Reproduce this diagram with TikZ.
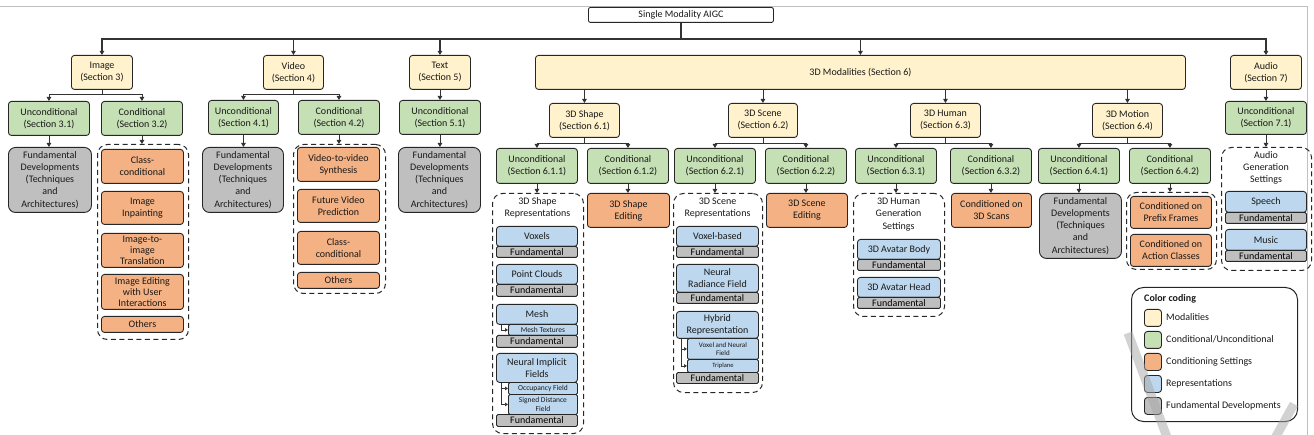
\documentclass[tikz,border=0pt]{standalone}
\usepackage{fontspec}
\setmainfont{Carlito}
\usetikzlibrary{arrows.meta}

\definecolor{modcol}{RGB}{255,242,204}
\definecolor{condcol}{RGB}{197,224,180}
\definecolor{setcol}{RGB}{244,177,131}
\definecolor{repcol}{RGB}{189,215,238}
\definecolor{fundcol}{RGB}{191,191,191}

\tikzset{
  box/.style={draw=black!85, line width=0.9pt, rounded corners=3pt, anchor=north west, align=center, inner sep=1pt, text=black!90, font=\fontsize{10}{12}\selectfont},
  rootbox/.style={box, fill=white, rounded corners=2pt},
  modbox/.style={box, fill=modcol},
  condbox/.style={box, fill=condcol},
  setbox/.style={box, fill=setcol},
  repbox/.style={box, fill=repcol},
  fundbox/.style={box, fill=fundcol, rounded corners=7pt, font=\fontsize{10}{12.2}\selectfont},
  fundstrip/.style={box, fill=fundcol, rounded corners=1.5pt, inner sep=0pt, text=black},
  subbox/.style={repbox, rounded corners=1.5pt, inner sep=0pt, font=\fontsize{7.5}{8.5}\selectfont},
  grp/.style={draw=black!85, line width=1pt, dash pattern=on 5pt off 3.5pt, rounded corners=10pt, anchor=north west, inner sep=0pt},
  grptitle/.style={align=center, text=black!90, font=\fontsize{10}{12.2}\selectfont, inner sep=0pt},
  arr/.style={draw=black!80, line width=0.8pt, -{Triangle[length=4pt,width=4.5pt]}},
  busarr/.style={arr, line width=1.1pt},
  smallarr/.style={draw=black!80, line width=0.7pt, -{Triangle[length=3pt,width=3.5pt]}},
  swatch/.style={box, minimum width=17pt, minimum height=17pt},
  legtext/.style={anchor=west, text=black!90, font=\fontsize{10}{12}\selectfont, inner sep=0pt},
}

\begin{document}
\begin{tikzpicture}[x=1pt,y=-1pt]
\useasboundingbox (0,0) rectangle (1314,435);
% page edge
\draw[black!25, line width=0.8pt] (0,6) -- (1307,6) -- (1307,435);

% root and modalities
\node[rootbox, minimum width=185pt, minimum height=15pt] (root) at (588,7) {Single Modality AIGC};
\node[modbox, minimum width=61pt, minimum height=34pt] (img) at (71,55) {Image\\(Section 3)};
\node[modbox, minimum width=60pt, minimum height=34pt] (vid) at (263,55) {Video\\(Section 4)};
\node[modbox, minimum width=61pt, minimum height=34pt] (txt) at (409,55) {Text\\(Section 5)};
\node[modbox, minimum width=650pt, minimum height=34pt] (mod3d) at (535,55) {3D Modalities (Section 6)};
\node[modbox, minimum width=71pt, minimum height=34pt] (aud) at (1230,55) {Audio\\(Section 7)};

% conditional / unconditional
\node[condbox, minimum width=81pt, minimum height=34pt] (img31) at (8,101) {Unconditional\\(Section 3.1)};
\node[condbox, minimum width=81pt, minimum height=34pt] (img32) at (101,101) {Conditional\\(Section 3.2)};
\node[condbox, minimum width=70pt, minimum height=34pt] (vid41) at (208,100) {Unconditional\\(Section 4.1)};
\node[condbox, minimum width=81pt, minimum height=34pt] (vid42) at (298,100) {Conditional\\(Section 4.2)};
\node[condbox, minimum width=81pt, minimum height=34pt] (txt51) at (399,100) {Unconditional\\(Section 5.1)};
\node[condbox, minimum width=81pt, minimum height=33pt] (aud71) at (1225,101) {Unconditional\\(Section 7.1)};

% 3D modalities
\node[modbox, minimum width=70pt, minimum height=34pt] (shp) at (549,103) {3D Shape\\(Section 6.1)};
\node[modbox, minimum width=69pt, minimum height=34pt] (scn) at (728,103) {3D Scene\\(Section 6.2)};
\node[modbox, minimum width=70pt, minimum height=34pt] (hum) at (910,103) {3D Human\\(Section 6.3)};
\node[modbox, minimum width=70pt, minimum height=34pt] (mot) at (1092,103) {3D Motion\\(Section 6.4)};

\node[condbox, minimum width=81pt, minimum height=35pt] (shp1) at (496,148) {Unconditional\\(Section 6.1.1)};
\node[condbox, minimum width=81pt, minimum height=35pt] (shp2) at (587,148) {Conditional\\(Section 6.1.2)};
\node[condbox, minimum width=81pt, minimum height=35pt] (scn1) at (674,148) {Unconditional\\(Section 6.2.1)};
\node[condbox, minimum width=81pt, minimum height=35pt] (scn2) at (765,148) {Conditional\\(Section 6.2.2)};
\node[condbox, minimum width=81pt, minimum height=35pt] (hum1) at (855,148) {Unconditional\\(Section 6.3.1)};
\node[condbox, minimum width=81pt, minimum height=35pt] (hum2) at (950,148) {Conditional\\(Section 6.3.2)};
\node[condbox, minimum width=81pt, minimum height=35pt] (mot1) at (1038,148) {Unconditional\\(Section 6.4.1)};
\node[condbox, minimum width=81pt, minimum height=35pt] (mot2) at (1129,148) {Conditional\\(Section 6.4.2)};

% fundamental developments
\node[fundbox, minimum width=83pt, minimum height=65pt] (img31f) at (8,147) {Fundamental\\Developments\\(Techniques\\and\\Architectures)};
\node[fundbox, minimum width=81pt, minimum height=65pt] (vid41f) at (202,147) {Fundamental\\Developments\\(Techniques\\and\\Architectures)};
\node[fundbox, minimum width=82pt, minimum height=65pt] (txt51f) at (398,147) {Fundamental\\Developments\\(Techniques\\and\\Architectures)};
\node[fundbox, minimum width=82pt, minimum height=65pt] (mot1f) at (1039,193) {Fundamental\\Developments\\(Techniques\\and\\Architectures)};

% dashed groups
\node[grp, minimum width=91pt, minimum height=195pt] (img32g) at (97,144) {};
\node[grp, minimum width=92pt, minimum height=149pt] (vid42g) at (293,144) {};
\node[grp, minimum width=91pt, minimum height=240pt] (shp1g) at (492,193) {};
\node[grp, minimum width=89pt, minimum height=199pt] (scn1g) at (673,193) {};
\node[grp, minimum width=91pt, minimum height=123pt] (hum1g) at (853,193) {};
\node[grp, minimum width=90pt, minimum height=77pt] (mot2g) at (1126,192) {};
\node[grp, minimum width=90pt, minimum height=123pt] (aud71g) at (1221,147) {};

% conditioning settings
\node[setbox, minimum width=82pt, minimum height=34pt] (icls) at (101,149) {Class-\\conditional};
\node[setbox, minimum width=82pt, minimum height=33pt] (iinp) at (101,191) {Image\\Inpainting};
\node[setbox, minimum width=82pt, minimum height=34pt, inner sep=0pt, font=\fontsize{10}{11}\selectfont] (ii2i) at (101,233) {Image-to-\\image\\Translation};
\node[setbox, minimum width=82pt, minimum height=35pt, inner sep=0pt, font=\fontsize{10}{11}\selectfont] (iedit) at (101,274) {Image Editing\\with User\\Interactions};
\node[setbox, minimum width=82pt, minimum height=16pt, inner sep=0pt] (ioth) at (101,316) {Others};
\node[setbox, minimum width=82pt, minimum height=34pt] (vv2v) at (297,147) {Video-to-video\\Synthesis};
\node[setbox, minimum width=82pt, minimum height=33pt] (vfut) at (297,189) {Future Video\\Prediction};
\node[setbox, minimum width=82pt, minimum height=33pt] (vcls) at (297,231) {Class-\\conditional};
\node[setbox, minimum width=82pt, minimum height=16pt, inner sep=0pt] (voth) at (297,272) {Others};
\node[setbox, minimum width=82pt, minimum height=34pt] (shp2e) at (587,193) {3D Shape\\Editing};
\node[setbox, minimum width=81pt, minimum height=34pt] (scn2e) at (766,193) {3D Scene\\Editing};
\node[setbox, minimum width=80pt, minimum height=34pt] (hum2e) at (951,193) {Conditioned on\\3D Scans};
\node[setbox, minimum width=81pt, minimum height=32pt] (motpf) at (1130,196) {Conditioned on\\Prefix Frames};
\node[setbox, minimum width=81pt, minimum height=32pt] (motac) at (1130,234) {Conditioned on\\Action Classes};

% 3D shape representations
\node[grptitle] (shp1gt) at (537.5,208) {3D Shape\\Representations};
\node[repbox, minimum width=81pt, minimum height=20pt] (vox) at (496,226) {Voxels};
\node[fundstrip, minimum width=81pt, minimum height=11pt] (voxf) at (496,246) {Fundamental};
\node[repbox, minimum width=81pt, minimum height=20pt] (pcl) at (496,264) {Point Clouds};
\node[fundstrip, minimum width=81pt, minimum height=12pt] (pclf) at (496,284) {Fundamental};
\node[repbox, minimum width=81pt, minimum height=20pt] (msh) at (496,304) {Mesh};
\node[subbox, minimum width=69pt, minimum height=11pt] (mshtx) at (508,324) {Mesh Textures};
\node[fundstrip, minimum width=81pt, minimum height=12pt] (mshf) at (496,335) {Fundamental};
\node[repbox, minimum width=81pt, minimum height=29pt] (nif) at (496,353) {Neural Implicit\\Fields};
\node[subbox, minimum width=69pt, minimum height=12pt] (nifocc) at (508,382) {Occupancy Field};
\node[subbox, minimum width=69pt, minimum height=20pt] (nifsdf) at (508,394) {Signed Distance\\Field};
\node[fundstrip, minimum width=81pt, minimum height=12pt] (niff) at (496,414) {Fundamental};

% 3D scene representations
\node[grptitle] (scn1gt) at (717.5,208) {3D Scene\\Representations};
\node[repbox, minimum width=82pt, minimum height=20pt] (vxb) at (676,226) {Voxel-based};
\node[fundstrip, minimum width=82pt, minimum height=11pt] (vxbf) at (676,246) {Fundamental};
\node[repbox, minimum width=82pt, minimum height=28pt] (nrf) at (676,264) {Neural\\Radiance Field};
\node[fundstrip, minimum width=82pt, minimum height=11pt] (nrff) at (676,292) {Fundamental};
\node[repbox, minimum width=82pt, minimum height=27pt] (hyb) at (676,311) {Hybrid\\Representation};
\node[subbox, minimum width=71pt, minimum height=21pt, font=\fontsize{7}{8.5}\selectfont] (hybvn) at (687,338) {Voxel and Neural\\Field};
\node[subbox, minimum width=71pt, minimum height=13pt, font=\fontsize{6.5}{7}\selectfont] (hybtp) at (687,359) {Triplane};
\node[fundstrip, minimum width=82pt, minimum height=11pt] (hybf) at (676,372) {Fundamental};

% 3D human generation settings
\node[grptitle, font=\fontsize{10}{12.5}\selectfont] (hum1gt) at (898.5,214.5) {3D Human\\Generation\\Settings};
\node[repbox, minimum width=83pt, minimum height=20pt] (avb) at (857,239) {3D Avatar Body};
\node[fundstrip, minimum width=83pt, minimum height=11pt] (avbf) at (857,259) {Fundamental};
\node[repbox, minimum width=83pt, minimum height=20pt] (avh) at (857,277) {3D Avatar Head};
\node[fundstrip, minimum width=83pt, minimum height=11pt] (avhf) at (857,297) {Fundamental};

% audio generation settings
\node[grptitle] (aud71gt) at (1266,168) {Audio\\Generation\\Settings};
\node[repbox, minimum width=81pt, minimum height=21pt] (spc) at (1225,191) {Speech};
\node[fundstrip, minimum width=81pt, minimum height=11pt] (spcf) at (1225,212) {Fundamental};
\node[repbox, minimum width=81pt, minimum height=21pt] (mus) at (1225,229) {Music};
\node[fundstrip, minimum width=81pt, minimum height=11pt] (musf) at (1225,250) {Fundamental};

% connectors
\coordinate (bus) at (0,39);
\foreach \m in {img,vid,txt,mod3d,aud}
  \draw[busarr] (root.south) -- (root.south |- bus) -| (\m.north);
\foreach \pa/\la/\lb in {img/img31/img32, vid/vid41/vid42} {
  \draw[arr] (\pa.south) -- ++(0,5) -| (\la.north);
  \draw[arr] (\pa.south) -- ++(0,5) -| (\lb.north);
}
\foreach \pa/\la/\lb in {shp/shp1/shp2, scn/scn1/scn2, hum/hum1/hum2, mot/mot1/mot2} {
  \draw[arr] (\pa.south) -- ++(0,6) -| (\la.north);
  \draw[arr] (\pa.south) -- ++(0,6) -| (\lb.north);
}
\foreach \ch in {shp,scn,hum,mot}
  \draw[arr] (mod3d.south -| \ch.north) -- (\ch.north);
\foreach \up/\dn in {txt/txt51, aud/aud71, img31/img31f, img32/img32g, vid41/vid41f, vid42/vid42g, txt51/txt51f, aud71/aud71g, shp1/shp1g, shp2/shp2e, scn1/scn1g, scn2/scn2e, hum1/hum1g, hum2/hum2e, mot1/mot1f, mot2/mot2g}
  \draw[arr] (\up) -- (\up |- \dn.north);
\draw[smallarr] ([xshift=5pt]msh.south west) |- (mshtx.west);
\draw[smallarr] ([xshift=5pt]nif.south west) |- (nifocc.west);
\draw[smallarr] ([xshift=5pt]nif.south west) |- (nifsdf.west);
\draw[smallarr] ([xshift=5pt]hyb.south west) |- (hybvn.west);
\draw[smallarr] ([xshift=5pt]hyb.south west) |- (hybtp.west);

% legend
\node[draw=black!85, line width=1pt, rounded corners=12pt, anchor=north west, minimum width=166pt, minimum height=134pt] (leg) at (1131,287) {};
\node[legtext, font=\fontsize{10}{12}\selectfont\bfseries] (legt) at (1144,299) {Color coding};
\node[swatch, fill=modcol] (lsw1) at (1144,309) {};
\node[swatch, fill=condcol] (lsw2) at (1144,331) {};
\node[swatch, fill=setcol] (lsw3) at (1144,353) {};
\node[swatch, fill=repcol] (lsw4) at (1144,375) {};
\node[swatch, fill=fundcol] (lsw5) at (1144,397) {};
\node[legtext] (lt1) at (1166,317.5) {Modalities};
\node[legtext] (lt2) at (1166,339.5) {Conditional/Unconditional};
\node[legtext] (lt3) at (1166,361.5) {Conditioning Settings};
\node[legtext] (lt4) at (1166,383.5) {Representations};
\node[legtext] (lt5) at (1166,405.5) {Fundamental Developments};

% grey overlay stroke
\draw[line width=9pt, black!35, opacity=0.5] (1128,333) -- (1168,440);
\draw[line width=9pt, black!35, opacity=0.5] (1294,404) -- (1274,440);
\end{tikzpicture}
\end{document}
